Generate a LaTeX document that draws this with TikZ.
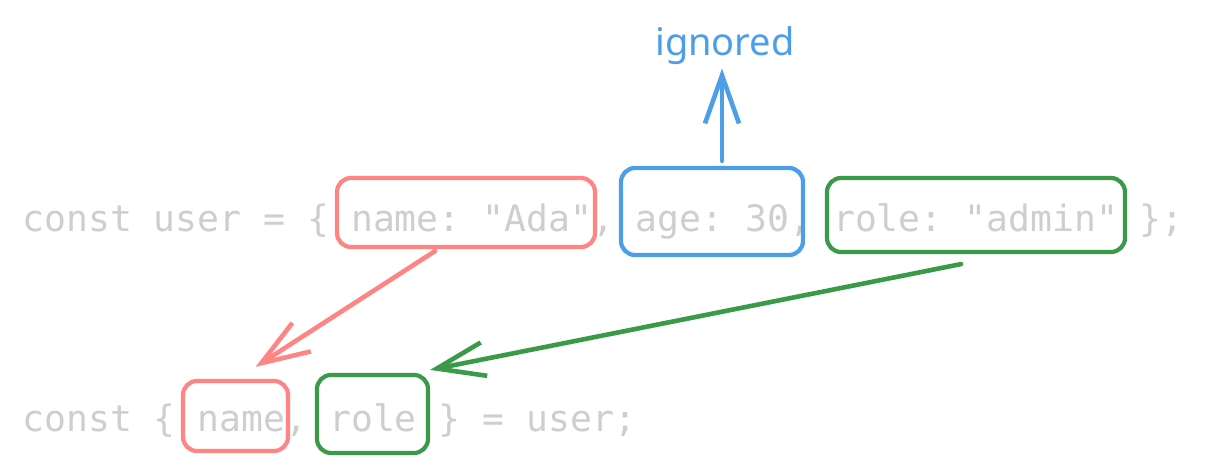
\documentclass[tikz,border=0pt]{standalone}
\usepackage{fontspec}
\setmonofont{DejaVu Sans Mono}
\newfontfamily\handfont{Noto Sans}
\usetikzlibrary{arrows.meta,calc,fit}
\definecolor{codegray}{HTML}{CECECE}
\definecolor{sred}{HTML}{FF8585}
\definecolor{sblue}{HTML}{4C9EE8}
\definecolor{sgreen}{HTML}{3A9A4A}
\begin{document}
\begin{tikzpicture}[x=0.5pt,y=-0.5pt,
  code/.style={anchor=base west, inner sep=0pt, text=codegray, font=\ttfamily\fontsize{18.2}{22}\selectfont},
  hbox/.style={draw, line width=2.1pt, rounded corners=7pt, inner sep=0pt},
  sarrow/.style={line width=2.3pt, line cap=round, line join=round, -{Straight Barb[length=24pt,width=17pt,line width=2.3pt]}},
]
\useasboundingbox (0,0) rectangle (1206,471);
% code lines
\node[code] (l1) at (22,231) {const user = \{ name: "Ada", age: 30, role: "admin" \};};
\node[code] (l2) at (22,431) {const \{ name, role \} = user;};
% highlight boxes
\node[hbox, draw=sred, fit={(337,178) (595,247)}] (rtop) {};
\node[hbox, draw=sblue, fit={(621,168) (803,255)}] (btop) {};
\node[hbox, draw=sgreen, fit={(827,178) (1125,252)}] (gtop) {};
\node[hbox, draw=sred, fit={(183,381) (288,451)}] (rbot) {};
\node[hbox, draw=sgreen, fit={(317,375) (428,453)}] (gbot) {};
% label
\node[text=sblue, font=\handfont\fontsize{19}{22}\selectfont, anchor=base, inner sep=0pt] (ign) at (725,55) {ignored};
% arrows
\coordinate (rs) at ($(rtop.south)+(-31,2)$);
\coordinate (gs) at ($(gtop.south)+(-15,10)$);
\coordinate (bs) at ($(btop.north)+(10,-5)$);
\draw[sarrow, sred] (rs) -- ($(rbot.north)+(20,-12)$);
\draw[sarrow, sgreen] (gs) -- ($(gbot.north east)+(0,-3)$);
\draw[sarrow, sblue] (bs) -- ([yshift=-2pt]ign.south -| bs);
\end{tikzpicture}
\end{document}
